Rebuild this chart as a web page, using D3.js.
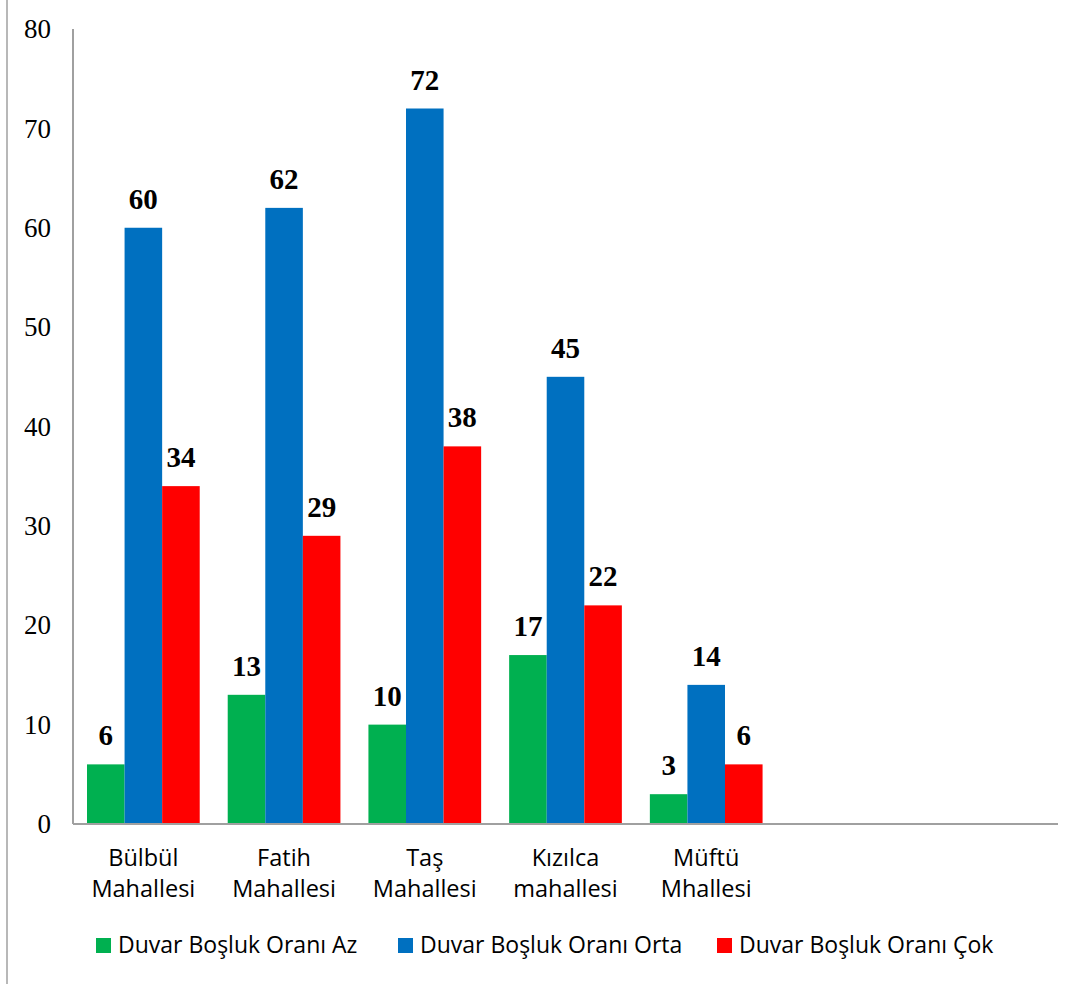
<!DOCTYPE html>
<html><head><meta charset="utf-8">
<script src="https://cdn.jsdelivr.net/npm/d3@7"></script>
<style>body{margin:0;background:#fff}</style>
</head><body>
<script>
const categories = [["Bülbül","Mahallesi"],["Fatih","Mahallesi"],["Taş","Mahallesi"],["Kızılca","mahallesi"],["Müftü","Mhallesi"],["",""],[" "," "]];
const seriesNames = ["Duvar Boşluk Oranı Az","Duvar Boşluk Oranı Orta","Duvar Boşluk Oranı Çok"];
const seriesColors = ["#00B050","#0070C0","#FF0000"];
const azValues = [6,13,10,17,3];
const ortaValues = [60,62,72,45,14];
const cokValues = [34,29,38,22,6];
const yTicks = [0,10,20,30,40,50,60,70,80];

const W=1076,H=984;
const svg=d3.select("body").append("svg").attr("width",W).attr("height",H);
svg.append("line").attr("x1",7).attr("x2",7).attr("y1",0).attr("y2",H).attr("stroke","#a0a0a0").attr("stroke-width",1.5);

const step=(1058-73)/categories.length;
const xg=d3.scaleBand().domain(d3.range(categories.length)).range([73,1058]).padding(0);
const x1=d3.scaleBand().domain([0,1,2]).range([14,step-14]);
const y=d3.scaleLinear().domain([0,80]).range([824,29]);

const series=[azValues,ortaValues,cokValues];
const g=svg.append("g");
series.forEach((vals,si)=>{
  vals.forEach((v,ci)=>{
    const bx=xg(ci)+x1(si);
    g.append("rect").attr("x",bx).attr("y",y(v)).attr("width",x1.bandwidth()).attr("height",y(0)-y(v)).attr("fill",seriesColors[si]);
    g.append("text").attr("x",bx+x1.bandwidth()/2).attr("y",y(v)-19).attr("text-anchor","middle")
      .attr("font-family","Liberation Serif").attr("font-weight","bold").attr("font-size",29).text(v);
  });
});

svg.append("line").attr("x1",73).attr("x2",73).attr("y1",29).attr("y2",824).attr("stroke","#a0a0a0").attr("stroke-width",2);
svg.append("line").attr("x1",73).attr("x2",1058).attr("y1",824).attr("y2",824).attr("stroke","#a0a0a0").attr("stroke-width",2);

yTicks.forEach(t=>{
  svg.append("text").attr("x",51).attr("y",y(t)).attr("dy","0.34em").attr("text-anchor","end")
    .attr("font-family","Liberation Serif").attr("font-size",27).attr("fill","#000").text(t);
});

categories.forEach((c,i)=>{
  const cx=xg(i)+step/2;
  const t=svg.append("text").attr("text-anchor","middle").attr("font-family","Open Sans").attr("font-size",23.5).attr("fill","#000");
  t.append("tspan").attr("x",cx).attr("y",866).text(c[0]);
  t.append("tspan").attr("x",cx).attr("y",897).text(c[1]);
});

const legendX=[96,398,717];
seriesNames.forEach((n,i)=>{
  svg.append("rect").attr("x",legendX[i]).attr("y",938).attr("width",15).attr("height",15).attr("fill",seriesColors[i]);
  svg.append("text").attr("x",legendX[i]+22).attr("y",953).attr("font-family","Open Sans").attr("font-size",23).attr("fill","#000").text(n);
});
</script>
</body></html>
